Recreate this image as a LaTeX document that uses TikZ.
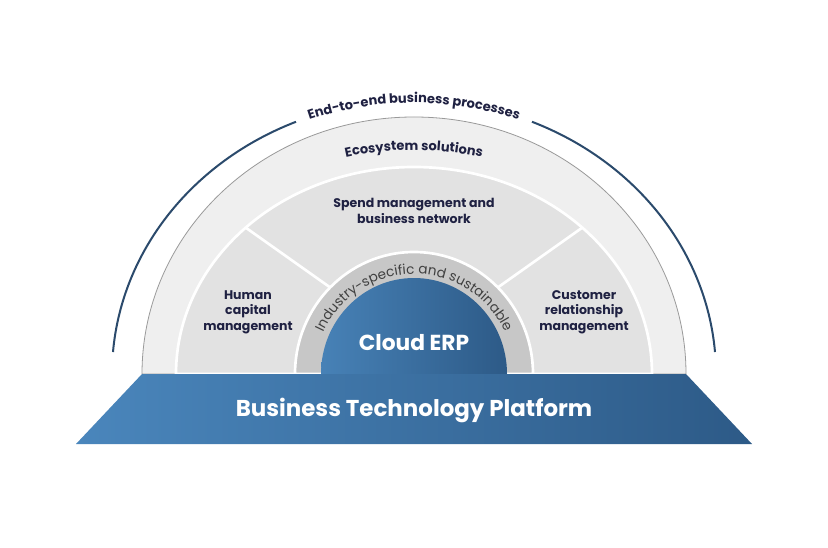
\documentclass[tikz,border=0pt]{standalone}
\usepackage{fontspec}
\setmainfont{Poppins}
\usetikzlibrary{decorations.text}

\definecolor{navy}{HTML}{1F2142}
\definecolor{arcblue}{HTML}{2B4A6C}
\definecolor{ecogray}{HTML}{EFEFEF}
\definecolor{secgray}{HTML}{E2E2E2}
\definecolor{ringgray}{HTML}{C7C7C7}
\definecolor{lineg}{HTML}{9A9A9A}
\definecolor{blueL}{HTML}{4A86BC}
\definecolor{blueD}{HTML}{2D5A87}

\begin{document}
\begin{tikzpicture}[x=0.75pt, y=0.75pt,
  lbl/.style={font=\bfseries\fontsize{9.4}{11.6}\selectfont, text=navy, align=center},
  outerarc/.style={draw=arcblue, line width=1.5pt},
  divider/.style={draw=white, line width=2pt}]
\useasboundingbox (0,0) rectangle (828,547);
\fill[white] (0,0) rectangle (828,547);
\coordinate (C) at (414,173);

% outer arc, broken by its label
\draw[outerarc] (C) ++(4.6:302 and 274) arc[start angle=4.6, end angle=67, x radius=302, y radius=274];
\draw[outerarc] (C) ++(113:302 and 274) arc[start angle=113, end angle=175.4, x radius=302, y radius=274];
\path[decorate, decoration={text along path, text align=center, text color=navy,
  text={|\bfseries\fontsize{9.75}{12}\selectfont|End-to-end business processes}}]
  (C) ++(170:300 and 271) arc[start angle=170, end angle=10, x radius=300, y radius=271];

% layers of the half disc
\filldraw[fill=ecogray, draw=lineg, line width=0.6pt] (C) ++(0:272 and 257) arc[start angle=0, end angle=180, x radius=272, y radius=257] -- cycle;
\path[decorate, decoration={text along path, text align=center, text color=navy,
  text={|\bfseries\fontsize{9.75}{12}\selectfont|Ecosystem solutions}}]
  (C) ++(170:265 and 224) arc[start angle=170, end angle=10, x radius=265, y radius=224];
\filldraw[fill=secgray, draw=white, line width=2pt] (C) ++(0:238 and 207) arc[start angle=0, end angle=180, x radius=238, y radius=207] -- cycle;
\draw[divider] ([shift={(45:118 and 122)}]C) -- ([shift={(45:238 and 207)}]C);
\draw[divider] ([shift={(135:118 and 122)}]C) -- ([shift={(135:238 and 207)}]C);
\filldraw[fill=ringgray, draw=white, line width=2pt] (C) ++(0:119 and 122) arc[start angle=0, end angle=180, x radius=119, y radius=122] -- cycle;
\path[decorate, decoration={text along path, text align=center, text color=black!75,
  text={|\fontsize{10.2}{12}\selectfont|Industry-specific and sustainable}}]
  (C) ++(180:100 and 100) arc[start angle=180, end angle=0, x radius=100, y radius=100];
\shade[left color=blueL!90!blueD, right color=blueD] (C) ++(0:93 and 96) arc[start angle=0, end angle=180, x radius=93, y radius=96] -- cycle;

% platform
\shade[left color=blueL, right color=blueD] (142,173) -- (686,173) -- (752,103) -- (76,103) -- cycle;

\node[lbl] (spend) at (414,336) {Spend management and\\business network};
\node[lbl] (hcm) at (248,235) {Human\\capital\\management};
\node[lbl] (crm) at (584,235) {Customer\\relationship\\management};
\node[font=\bfseries\fontsize{16.3}{19}\selectfont, text=white] (erp) at (414,204) {Cloud ERP};
\node[font=\bfseries\fontsize{17.2}{20}\selectfont, text=white] (btp) at (414,137) {Business Technology Platform};
\end{tikzpicture}
\end{document}
